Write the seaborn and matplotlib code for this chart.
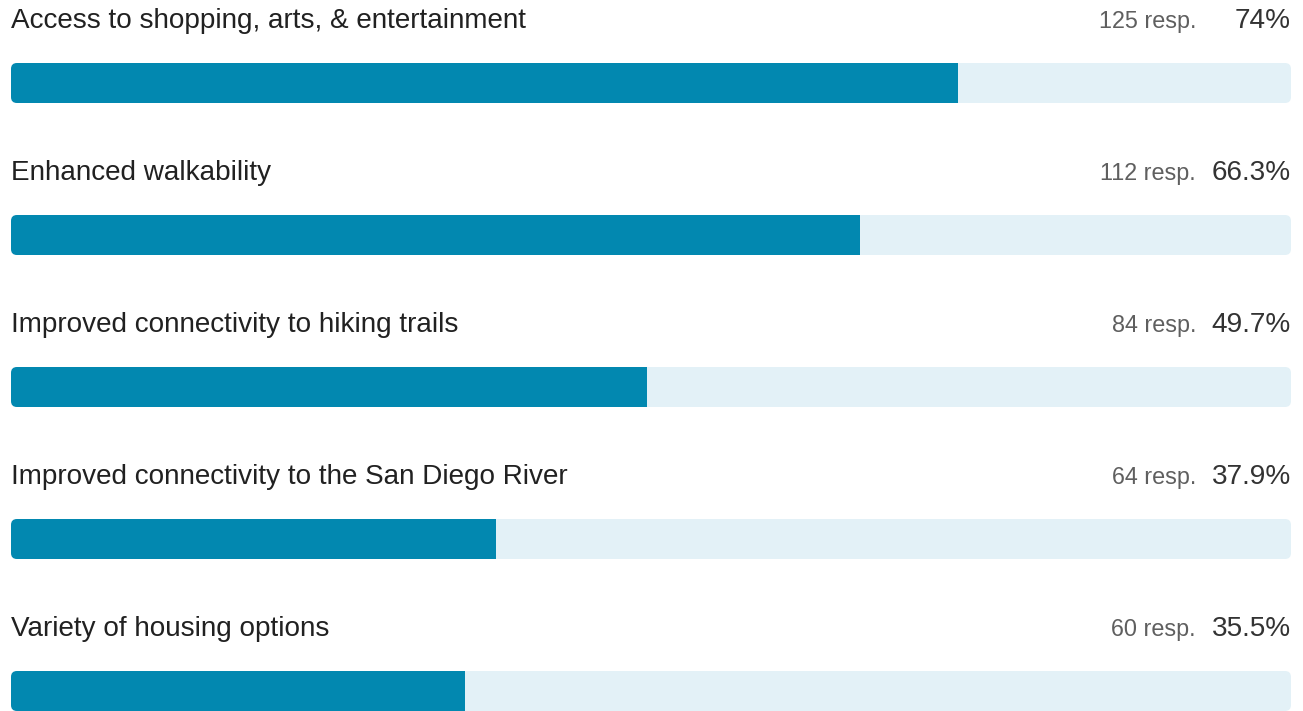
import matplotlib
matplotlib.use("Agg")
import matplotlib.pyplot as plt
import pandas as pd
import seaborn as sns
from matplotlib.patches import FancyBboxPatch

# values
options = [
    "Access to shopping, arts, & entertainment",
    "Enhanced walkability",
    "Improved connectivity to hiking trails",
    "Improved connectivity to the San Diego River",
    "Variety of housing options",
]
responses = [125, 112, 84, 64, 60]
percents = [74, 66.3, 49.7, 37.9, 35.5]

FILL = "#0288b0"
TRACK = "#e3f1f7"

sns.set_theme(style="white")
plt.rcParams["font.family"] = ["Liberation Sans", "DejaVu Sans"]

df = pd.DataFrame({"option": options, "resp": responses, "pct": percents})
df["full"] = 100

W, H = 1303, 711
fig = plt.figure(figsize=(W / 100, H / 100), dpi=100)
# one row every 152 px, bar 40 px high, bars span x 11..1291 px
row_px, bar_px = 152, 40
ax = fig.add_axes([11 / W, 0, 1280 / W, 1])

sns.barplot(data=df, y="option", x="full", color=TRACK, width=bar_px / row_px,
            saturation=1, linewidth=0, ax=ax)
n_track = len(ax.patches)
sns.barplot(data=df, y="option", x="pct", color=FILL, width=bar_px / row_px,
            saturation=1, linewidth=0, ax=ax)

ax.set_xlim(0, 100)
ax.set_ylim(len(options) - 1 + (H - 691) / row_px, -83 / row_px)
ax.set_axis_off()

# rounded track, fill clipped to it
px_x = 1280 / 100
aspect = px_x / row_px
radius = 6 / px_x
tracks = ax.patches[:n_track]
fills = ax.patches[n_track:]
for trk, fl in zip(tracks, fills):
    x0, y0 = trk.get_x(), trk.get_y()
    w, h = trk.get_width(), trk.get_height()
    rounded = FancyBboxPatch((x0, y0), w, h,
                             boxstyle=f"round,pad=0,rounding_size={radius}",
                             mutation_aspect=aspect, facecolor=TRACK,
                             edgecolor="none", linewidth=0,
                             zorder=trk.get_zorder())
    ax.add_patch(rounded)
    trk.set_visible(False)
    fl.set_edgecolor("none")
    fl.set_clip_path(rounded)
    fl.set_zorder(rounded.get_zorder() + 0.1)

resp_x = (1196 - 11) / px_x
for i, row in df.iterrows():
    ty = i - 55 / row_px
    ax.text(0, ty, row["option"], ha="left", va="baseline",
            fontsize=20.1, color="#212121")
    ax.text(resp_x, ty, f"{row['resp']} resp.", ha="right", va="baseline",
            fontsize=16.8, color="#5f5f5f")
    ax.text(100, ty, f"{row['pct']:g}%", ha="right", va="baseline",
            fontsize=20.2, color="#333333")

fig.savefig("out.png", dpi=100)
